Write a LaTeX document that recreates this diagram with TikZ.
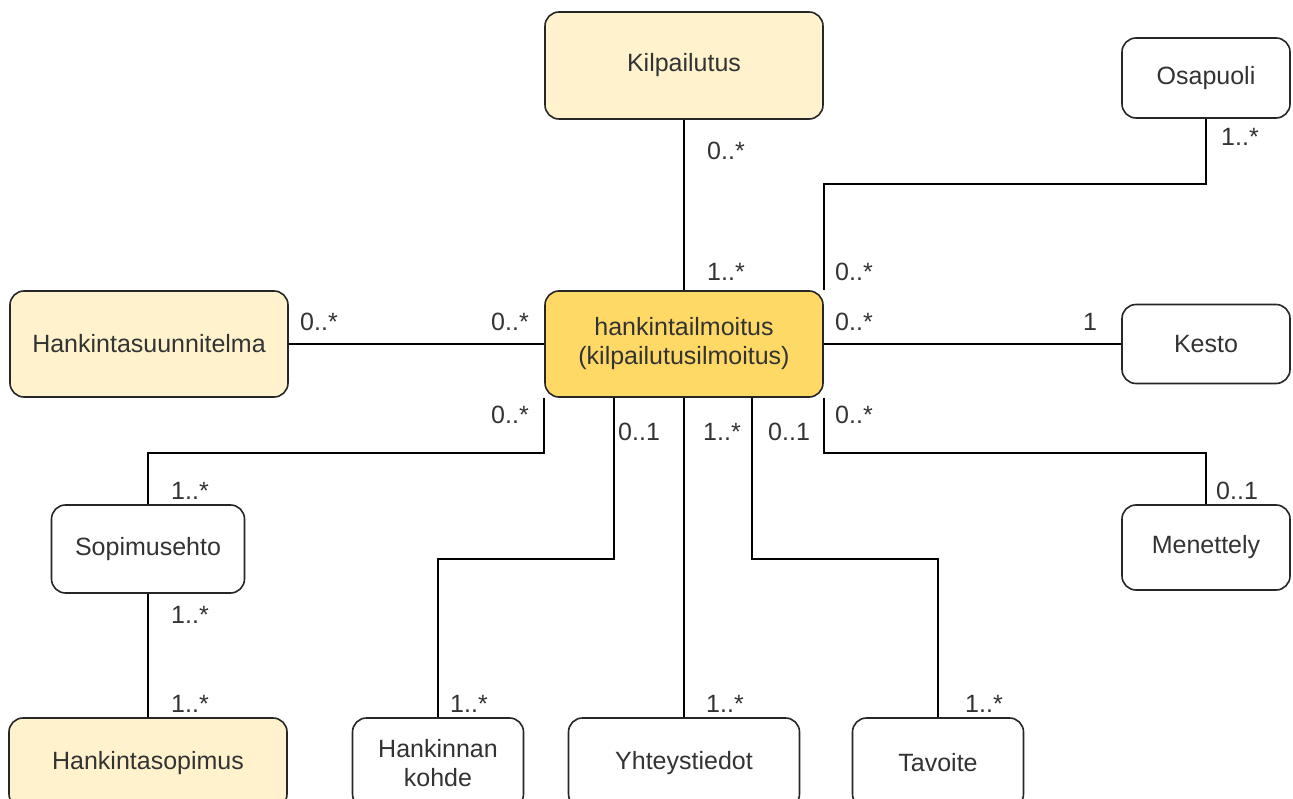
\documentclass[tikz,border=0pt]{standalone}
\usepackage{fontspec}
\setmainfont{Liberation Sans}
\definecolor{paleyellow}{HTML}{FFF2CC}
\definecolor{goldyellow}{HTML}{FFD966}
\definecolor{inkgray}{HTML}{333333}
\begin{document}
\begin{tikzpicture}[x=1pt,y=-1pt,
  box/.style={draw=black!85, line width=1.6pt, rounded corners=14pt, fill=white,
    minimum width=#1, inner sep=0pt, align=center, text=inkgray,
    font=\fontsize{25}{29}\selectfont},
  mult/.style={anchor=base west, inner sep=0pt, text=inkgray,
    font=\fontsize{25}{29}\selectfont},
  link/.style={line width=1.5pt, black}]
\useasboundingbox (0,0) rectangle (1293,799);
\begin{scope}
\clip (0,0) rectangle (1293,799);
% classes
\node[box=278pt, minimum height=107pt, fill=paleyellow] (kil) at (684,65.5) {Kilpailutus};
\node[box=168pt, minimum height=80pt] (osa) at (1206,78) {Osapuoli};
\node[box=278pt, minimum height=106pt, fill=paleyellow] (hsu) at (149,344) {Hankintasuunnitelma};
\node[box=278pt, minimum height=106pt, fill=goldyellow] (ilm) at (684,344) {hankintailmoitus\\(kilpailutusilmoitus)};
\node[box=168pt, minimum height=79pt] (kes) at (1206,344) {Kesto};
\node[box=193pt, minimum height=88pt] (sop) at (148,549) {Sopimusehto};
\node[box=168pt, minimum height=85pt] (men) at (1206,547.5) {Menettely};
\node[box=278pt, minimum height=90pt, fill=paleyellow] (hso) at (148,763) {Hankintasopimus};
\node[box=171pt, minimum height=90pt] (hko) at (438,763) {Hankinnan\\kohde};
\node[box=231pt, minimum height=90pt] (yht) at (684,763) {Yhteystiedot};
\node[box=171pt, minimum height=90pt] (tav) at (938,763) {Tavoite};
% associations
\draw[link] (kil.south) -- (ilm.north);
\draw[link] (osa.south) -- ++(0,65) -| (ilm.north east);
\draw[link] (hsu.east) -- (ilm.west);
\draw[link] (ilm.east) -- (kes.west);
\draw[link] (ilm.south west) -- ++(0,55) -| (sop.north);
\draw[link] (sop.south) -- (hso.north);
\draw[link] ([xshift=-70pt]ilm.south) -- ++(0,161) -| (hko.north);
\draw[link] (ilm.south) -- (yht.north);
\draw[link] ([xshift=68pt]ilm.south) -- ++(0,161) -| (tav.north);
\draw[link] (ilm.south east) -- ++(0,55) -| (men.north);
% multiplicities
\node[mult] (m1) at (707,160) {0..*};
\node[mult] (m2) at (707,281) {1..*};
\node[mult] (m3) at (1221,146) {1..*};
\node[mult] (m4) at (835,281) {0..*};
\node[mult] (m5) at (300,331) {0..*};
\node[mult] (m6) at (491,331) {0..*};
\node[mult] (m7) at (835,331) {0..*};
\node[mult] (m8) at (1083,331) {1};
\node[mult] (m9) at (491,423) {0..*};
\node[mult] (m10) at (618,440) {0..1};
\node[mult] (m11) at (703,440) {1..*};
\node[mult] (m12) at (768,440) {0..1};
\node[mult] (m13) at (835,423) {0..*};
\node[mult] (m14) at (171,499) {1..*};
\node[mult] (m15) at (1216,499) {0..1};
\node[mult] (m16) at (171,623) {1..*};
\node[mult] (m17) at (171,712) {1..*};
\node[mult] (m18) at (450,712) {1..*};
\node[mult] (m19) at (706,712) {1..*};
\node[mult] (m20) at (965,712) {1..*};
\end{scope}
\end{tikzpicture}
\end{document}
